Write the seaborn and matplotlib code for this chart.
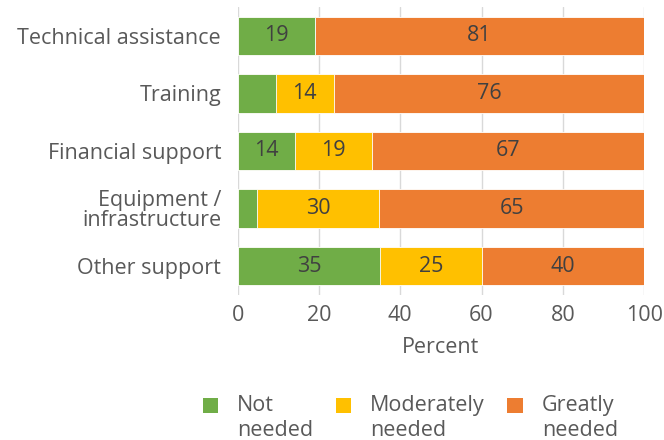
import matplotlib
matplotlib.use("Agg")
import matplotlib.pyplot as plt
import seaborn as sns
import pandas as pd
from matplotlib.patches import Patch, Rectangle
from matplotlib.legend_handler import HandlerPatch

categories = ["Technical assistance", "Training", "Financial support",
              "Equipment /\ninfrastructure", "Other support"]
not_needed = [19, 9.4, 14, 4.8, 35]
moderately = [0, 14.2, 19, 30, 25]
greatly = [81, 76.4, 67, 65.2, 40]
series_names = ["Not\nneeded", "Moderately\nneeded", "Greatly\nneeded"]
colors = ["#70AD47", "#FFC000", "#ED7D31"]
ticks = [0, 20, 40, 60, 80, 100]

sns.set_theme(style="white")
plt.rcParams["font.family"] = ["Open Sans", "DejaVu Sans"]
text_color = "#595959"
fs = 15.5

df = pd.DataFrame({"cat": categories, "g": not_needed, "y": moderately, "o": greatly})
df["c1"] = df["g"]
df["c2"] = df["g"] + df["y"]
df["c3"] = df["c2"] + df["o"]

fig = plt.figure(figsize=(6.64, 4.40), dpi=100)
ax = fig.add_axes([0.358, 0.330, 0.612, 0.654])

# stacked bars drawn as cumulative layers, longest first
for col, color in zip(["c3", "c2", "c1"], colors[::-1]):
    sns.barplot(data=df, x=col, y="cat", color=color, orient="h", width=0.67,
                saturation=1, edgecolor="white", linewidth=0.6, ax=ax)

# value labels in segment centres
for i, row in df.iterrows():
    starts = [0, row["c1"], row["c2"]]
    vals = [row["g"], row["y"], row["o"]]
    for s, v in zip(starts, vals):
        if v >= 10:
            ax.text(s + v / 2, i, f"{v:.0f}", ha="center", va="center",
                    fontsize=fs, color="#404040")

ax.set_xlim(0, 100)
ax.set_ylim(4.5, -0.5)
ax.set_xticks(ticks)
ax.set_xticklabels([str(t) for t in ticks])
ax.xaxis.grid(True, color="#D9D9D9", linewidth=1)
ax.set_axisbelow(True)
sns.despine(ax=ax, left=True, bottom=True)
ax.tick_params(axis="both", length=0, labelsize=fs, colors=text_color, pad=7)
ax.tick_params(axis="y", pad=12)
ax.set_ylabel("")
ax.set_xlabel("Percent", fontsize=fs, color=text_color, labelpad=8)
for lbl in ax.get_yticklabels():
    lbl.set_horizontalalignment("right")
    lbl.set_linespacing(0.95)


def top_square(legend, orig_handle, xdescent, ydescent, width, height, fontsize):
    # square lined up with the first line of the two-line label
    return Rectangle((-xdescent, -ydescent + 0.6 * fontsize), width, height)


handles = [Patch(facecolor=c, edgecolor="none") for c in colors]
fig.legend(handles, series_names, loc="center", bbox_to_anchor=(0.618, 0.05),
           ncol=3, frameon=False, fontsize=fs, labelcolor=text_color,
           handlelength=0.7, handleheight=0.7, handletextpad=0.9,
           columnspacing=1.05,
           handler_map={Patch: HandlerPatch(patch_func=top_square)})

fig.savefig("out.png", dpi=100)
